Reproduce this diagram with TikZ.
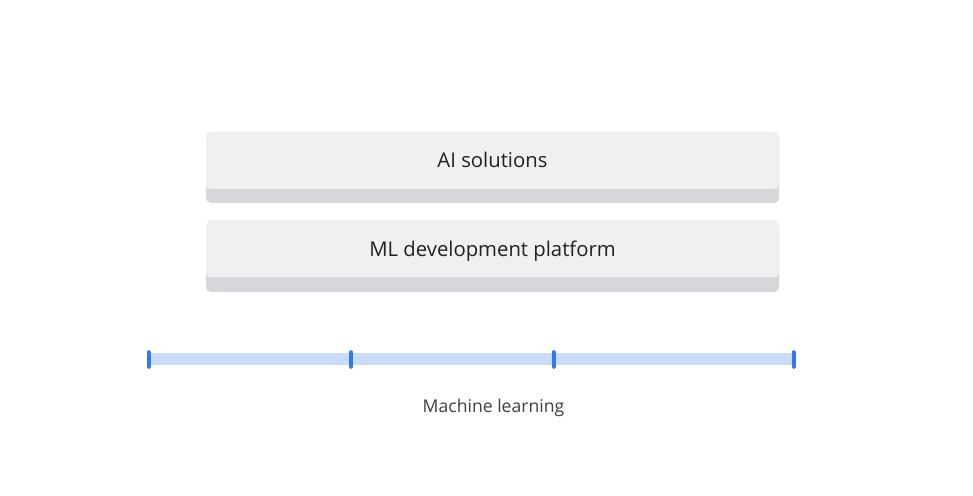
\documentclass[tikz,border=0pt]{standalone}
\usepackage{fontspec}
\setmainfont{Open Sans}
\usepackage{tikz}
\usetikzlibrary{calc}
\definecolor{boxtop}{RGB}{239,240,242}
\definecolor{boxedge}{RGB}{214,215,219}
\definecolor{barlight}{RGB}{200,219,249}
\definecolor{tickblue}{RGB}{52,120,234}
\definecolor{inkdark}{RGB}{32,33,36}
\definecolor{inkgray}{RGB}{60,64,67}

\begin{document}
\begin{tikzpicture}[x=1pt,y=1pt,
	layerbase/.style={fill=boxedge,rounded corners=5pt,minimum width=573pt,minimum height=71pt,inner sep=0pt},
	layertop/.style={fill=boxtop,rounded corners=5pt,minimum width=573pt,minimum height=57pt,inner sep=0pt,text=inkdark,text height=14.5pt,text depth=0pt,font=\fontsize{20.3}{24}\selectfont},
	tickmark/.style={draw=tickblue,line width=4pt,line cap=round}]
	\useasboundingbox[fill=white] (0,0) rectangle (973,495);
	\node[layerbase] (solbase) at (492.5,327.5) {};
	\node[layertop] (sol) at (492.5,334.5) {AI solutions};
	\node[layerbase] (platbase) at (492.5,238.5) {};
	\node[layertop] (plat) at (492.5,246) {ML development platform};
	\coordinate (t0) at (148.5,135.5);
	\coordinate (t1) at (351,135.5);
	\coordinate (t2) at (553.5,135.5);
	\coordinate (t3) at (793.5,135.5);
	\draw[barlight,line width=12pt] (t0) -- (t3);
	\foreach \t in {t0,t1,t2,t3}
		\draw[tickmark] ($(\t)+(0,7.3)$) -- ($(\t)+(0,-7.3)$);
	\node[text=inkgray,font=\fontsize{17.6}{21}\selectfont] (mlabel) at (493.5,87) {Machine learning};
\end{tikzpicture}
\end{document}
